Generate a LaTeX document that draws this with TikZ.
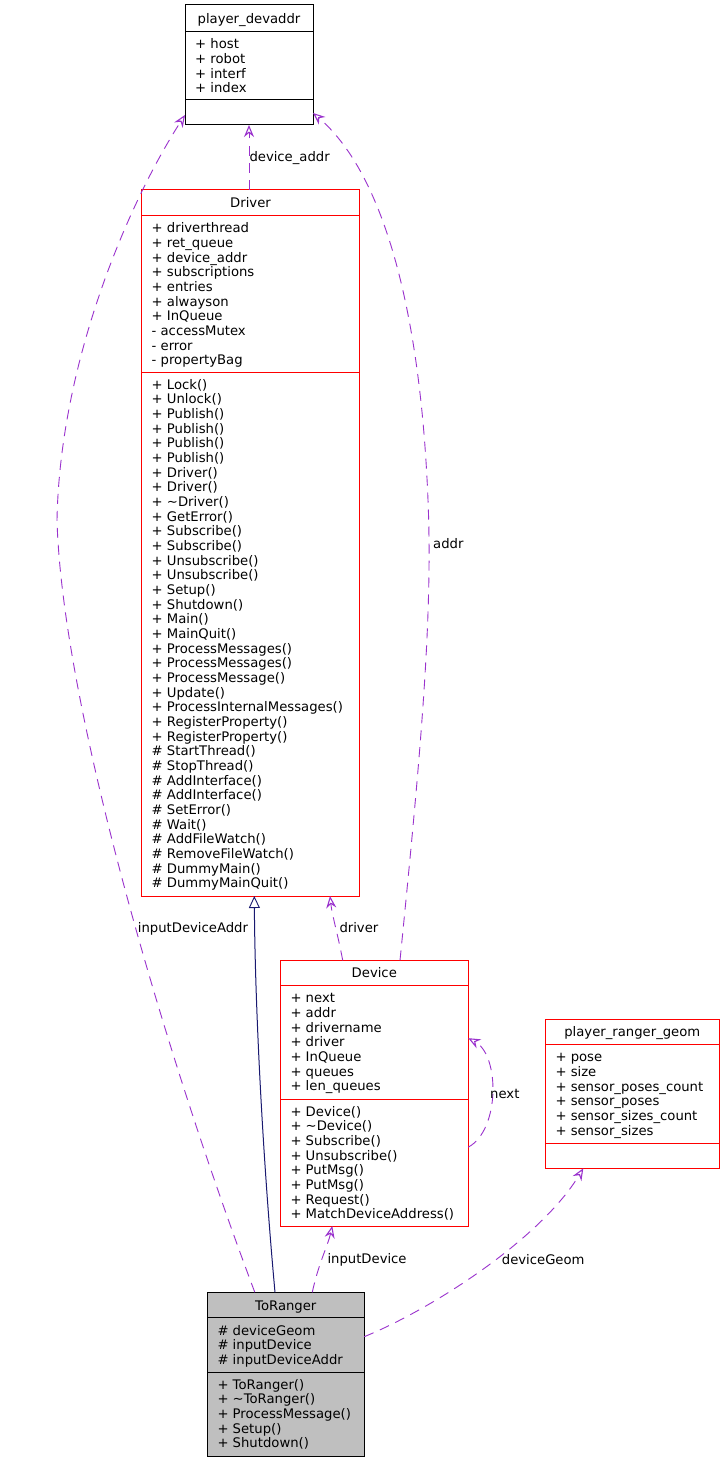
\documentclass[tikz,border=0pt]{standalone}
\usepackage{fontspec}
\setmainfont{DejaVu Sans}
\usetikzlibrary{arrows.meta}
\definecolor{edgepurple}{HTML}{9A32CD}
\definecolor{boxred}{HTML}{FF0000}
\definecolor{inhblue}{HTML}{191970}
\definecolor{boxgray}{HTML}{BFBFBF}
\newcommand{\firststrut}{\rule{0pt}{11pt}}
\begin{document}
\begin{tikzpicture}[x=1pt,y=-1pt,
  box/.style={draw=boxred, line width=1pt, inner sep=0pt, outer sep=0pt},
  divider/.style={line width=1pt},
  fnt/.style={font=\fontsize{13.2}{14.67}\selectfont},
  title/.style={fnt, anchor=base, inner sep=0pt},
  members/.style={fnt, anchor=north west, inner sep=0pt, align=left},
  elabel/.style={fnt, anchor=base west, inner sep=0pt},
  usage/.style={draw=edgepurple, line width=0.9pt, dash pattern=on 10pt off 7pt,
    -{Stealth[open, length=12pt, width=10pt, inset=4pt, line width=1.1pt]}},
  inherit/.style={draw=inhblue, line width=1pt,
    -{Triangle[open, length=12pt, width=11pt, fill=white, line width=0.9pt]}}]
\fill[white] (0,0) rectangle (724,1461);
\useasboundingbox (0,0) rectangle (724,1461);

% player_devaddr
\node[box, draw=black, minimum width=128pt, minimum height=120pt] (pd) at (249,65) {};
\draw[divider, black] (185,31.7) -- (313,31.7);
\draw[divider, black] (185,100) -- (313,100);
\node[title] (pdT) at (249,23.5) {player\_devaddr};
\node[members] (pdA) at (195,37.7) {\firststrut+ host\\+ robot\\+ interf\\+ index};

% Driver
\node[box, minimum width=218pt, minimum height=706.5pt] (drv) at (250.5,542.75) {};
\draw[divider, boxred] (141.5,215.3) -- (359.5,215.3);
\draw[divider, boxred] (141.5,372.3) -- (359.5,372.3);
\node[title] (drvT) at (250.5,207.3) {Driver};
\node[members] (drvA) at (151.5,221.7) {\firststrut+ driverthread\\+ ret\_queue\\+ device\_addr\\+ subscriptions\\+ entries\\+ alwayson\\+ InQueue\\- accessMutex\\- error\\- propertyBag};
\node[members] (drvM) at (151.5,378) {\firststrut+ Lock()\\+ Unlock()\\+ Publish()\\+ Publish()\\+ Publish()\\+ Publish()\\+ Driver()\\+ Driver()\\+ \textasciitilde Driver()\\+ GetError()\\+ Subscribe()\\+ Subscribe()\\+ Unsubscribe()\\+ Unsubscribe()\\+ Setup()\\+ Shutdown()\\+ Main()\\+ MainQuit()\\+ ProcessMessages()\\+ ProcessMessages()\\+ ProcessMessage()\\+ Update()\\+ ProcessInternalMessages()\\+ RegisterProperty()\\+ RegisterProperty()\\\# StartThread()\\\# StopThread()\\\# AddInterface()\\\# AddInterface()\\\# SetError()\\\# Wait()\\\# AddFileWatch()\\\# RemoveFileWatch()\\\# DummyMain()\\\# DummyMainQuit()};

% Device
\node[box, minimum width=188pt, minimum height=265.7pt] (dev) at (374.3,1093.15) {};
\draw[divider, boxred] (280.3,985.7) -- (468.3,985.7);
\draw[divider, boxred] (280.3,1099) -- (468.3,1099);
\node[title] (devT) at (374.3,977.3) {Device};
\node[members] (devA) at (290.3,991.7) {\firststrut+ next\\+ addr\\+ drivername\\+ driver\\+ InQueue\\+ queues\\+ len\_queues};
\node[members] (devM) at (290.3,1105) {\firststrut+ Device()\\+ \textasciitilde Device()\\+ Subscribe()\\+ Unsubscribe()\\+ PutMsg()\\+ PutMsg()\\+ Request()\\+ MatchDeviceAddress()};

% player_ranger_geom
\node[box, minimum width=174pt, minimum height=149pt] (prg) at (632.3,1093.8) {};
\draw[divider, boxred] (545.3,1044.3) -- (719.3,1044.3);
\draw[divider, boxred] (545.3,1143.3) -- (719.3,1143.3);
\node[title] (prgT) at (632.3,1036.7) {player\_ranger\_geom};
\node[members] (prgA) at (555.3,1050.7) {\firststrut+ pose\\+ size\\+ sensor\_poses\_count\\+ sensor\_poses\\+ sensor\_sizes\_count\\+ sensor\_sizes};

% ToRanger
\node[box, draw=black, fill=boxgray, minimum width=157pt, minimum height=163.7pt] (tr) at (285.8,1374.15) {};
\draw[divider, black] (207.3,1317.7) -- (364.3,1317.7);
\draw[divider, black] (207.3,1372.7) -- (364.3,1372.7);
\node[title] (trT) at (285.8,1310) {ToRanger};
\node[members] (trA) at (217.3,1324) {\firststrut\# deviceGeom\\\# inputDevice\\\# inputDeviceAddr};
\node[members] (trM) at (217.3,1378) {\firststrut+ ToRanger()\\+ \textasciitilde ToRanger()\\+ ProcessMessage()\\+ Setup()\\+ Shutdown()};

% inheritance ToRanger -> Driver
\draw[inherit] ([xshift=-10.8pt]tr.north) .. controls (262,1150) and (255,1000) .. ([xshift=3.8pt]drv.south);

% usage edges
\draw[usage] (drv.north -| pd.south) -- (pd.south);
\node[elabel] (lDA) at (249.3,161.5) {device\_addr};

\draw[usage] ([xshift=25.7pt]dev.north) .. controls (420,760) and (433,620) .. (428,500)
  .. controls (420,300) and (380,170) .. ([yshift=12pt]pd.south east);
\node[elabel] (lAddr) at (433,548.5) {addr};

\draw[usage] ([xshift=-31pt]tr.north) .. controls (160,1040) and (62,700) .. (57,520)
  .. controls (60,360) and (130,200) .. ([yshift=10pt]pd.south west);
\node[elabel] (lIDA) at (137.7,932.5) {inputDeviceAddr};

\draw[usage] ([xshift=-31.6pt]dev.north) .. controls (338,935) and (332,915) .. ([xshift=79.5pt]drv.south);
\node[elabel] (lDrv) at (339.3,932.5) {driver};

\draw[usage] ([yshift=-54pt]dev.east) .. controls (500,1130) and (500,1055) .. ([yshift=55pt]dev.east);
\node[elabel] (lNext) at (490,1098.5) {next};

\draw[usage] ([xshift=26.5pt]tr.north) .. controls (318,1265) and (328,1245) .. ([xshift=-42pt]dev.south);
\node[elabel] (lID) at (327.3,1263.5) {inputDevice};

\draw[usage] ([yshift=37.5pt]tr.east) .. controls (430,1310) and (540,1240) .. ([xshift=-49pt]prg.south);
\node[elabel] (lDG) at (501.7,1264.5) {deviceGeom};
\end{tikzpicture}
\end{document}
